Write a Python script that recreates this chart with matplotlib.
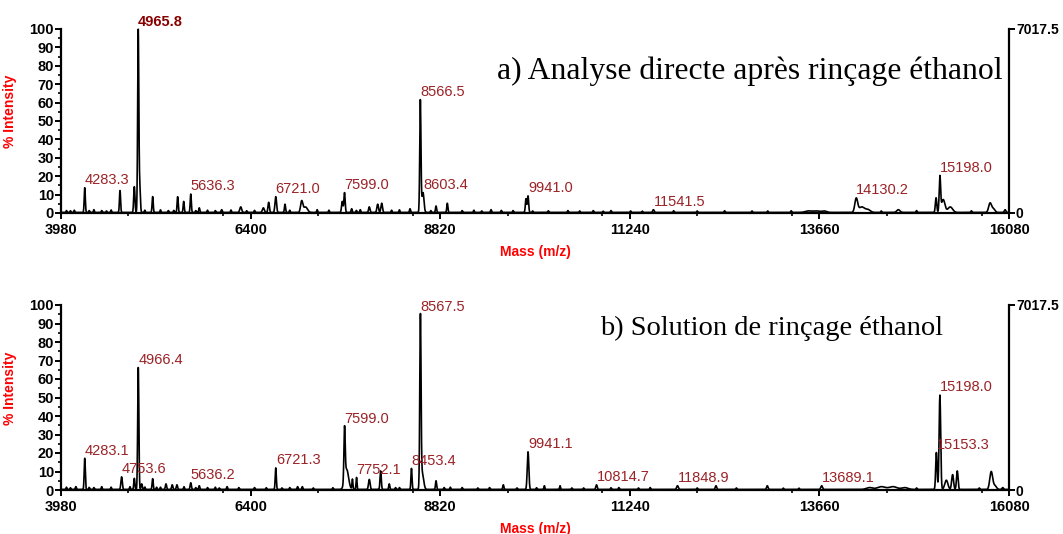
import numpy as np
import matplotlib
matplotlib.use("Agg")
import matplotlib.pyplot as plt
from matplotlib.ticker import MultipleLocator

# ---------------- data ----------------
x_ticks = [3980, 6400, 8820, 11240, 13660, 16080]
y_ticks = [0, 10, 20, 30, 40, 50, 60, 70, 80, 90, 100]
right_max = 7017.5

# panel a: peaks (mass, % intensity, sigma in Da)
a_mass = [4283.3, 4733, 4916, 4965.8, 4985, 5150, 5469, 5546, 5636.3, 5745,
          6031, 6274, 6563, 6631, 6721.0, 6839, 7052, 7100, 7570, 7599.0,
          7690, 7915, 8022, 8073, 8435, 8566.5, 8590, 8603.4, 8767, 8911,
          9469, 9915, 9941.0, 10774, 11541.5, 13520, 13620, 13720, 14130.2, 14200,
          14280, 14668, 15149, 15198.0, 15240, 15330, 15838, 15880, 16030]
a_int = [13.5, 12, 14, 98.8, 14, 8.6, 8.6, 6, 10, 2.5,
         1.5, 3, 2.5, 5.5, 8.6, 4.5, 6, 3, 6, 10.8,
         2, 3, 4.5, 5, 2, 59, 6, 6, 3.5, 5,
         1.5, 7.5, 9, 1, 1.5, 0.8, 0.8, 0.8, 7.5, 3,
         1.5, 1.5, 8, 19, 7, 3, 5, 2, 1.5]
a_sig = [7, 7, 8, 7.5, 8, 7, 7, 7, 7, 7,
         8, 12, 12, 9, 10, 7, 14, 25, 9, 8,
         7, 9, 10, 10, 7, 7.5, 18, 10, 7, 7,
         7, 8, 8, 7, 9, 40, 40, 30, 18, 35,
         30, 20, 9, 9, 22, 30, 18, 20, 10]
a_noise_mass = [4050, 4150, 4400, 4500, 4620, 5050, 5250, 5350, 5850, 5950,
                6150, 6450, 7250, 7400, 7800, 8200, 8300, 9100, 9250, 9600,
                9750, 10200, 10450, 10600, 11000, 11250, 11800, 12100, 12450, 12800,
                13000, 13300, 14450, 14900, 15600, 4100, 4340, 4560, 5420, 5700,
                6350, 6900, 7750, 8700, 9350, 10000, 10900, 11400]
a_noise_int = [1.0, 1.2, 1.5, 1.0, 1.3, 1.2, 1.4, 1.0, 1.2, 1.0,
               1.3, 1.1, 1.5, 1.2, 1.5, 1.2, 1.4, 1.0, 1.2, 1.1,
               1.0, 0.9, 1.0, 0.8, 1.0, 0.8, 0.9, 0.8, 0.9, 0.8,
               0.8, 0.9, 0.8, 1.0, 0.9, 0.9, 1.0, 0.8, 1.1, 1.0,
               0.9, 1.2, 1.1, 1.0, 0.8, 0.8, 0.7, 0.7]
a_labels = [4283.3, 4965.8, 5636.3, 6721.0, 7599.0, 8566.5, 8603.4, 9941.0,
            11541.5, 14130.2, 15198.0]

# panel b
b_mass = [4170, 4283.1, 4753.6, 4916, 4966.4, 5010, 5150, 5320, 5400, 5460,
          5636.2, 5745, 6100, 6721.3, 7000, 7060, 7599.0, 7625, 7700, 7752.1,
          7915, 8060, 8170, 8453.4, 8567.5, 8590, 8767, 8870, 9626, 9941.1,
          10150, 10350, 10814.7, 11100, 11500, 11848.9, 12340, 12995, 13689.1, 14300,
          14450, 14600, 14750, 15153.3, 15198.0, 15280, 15360, 15420, 15853, 15900,
          16000]
b_int = [1.5, 17, 6.8, 6, 66, 3, 5.8, 3, 2.5, 2.5,
         3.6, 2, 1.5, 11.7, 1.5, 1.5, 28, 11, 5.5, 6.5,
         5.4, 10, 3, 11.4, 91, 9, 4.7, 1, 2.5, 20.4,
         2, 2, 2.5, 1, 1, 2, 2, 2, 2, 1,
         1.5, 1.5, 1, 20, 51, 5, 8, 10, 9.6, 2,
         1]
b_sig = [7, 7, 9, 7, 7.5, 8, 7, 8, 8, 8,
         8, 7, 7, 7, 7, 7, 8, 25, 6, 6,
         10, 8, 7, 7, 8, 18, 7, 6, 7, 10,
         6, 6, 9, 6, 6, 11, 9, 9, 11, 40,
         50, 50, 40, 9, 10, 20, 12, 10, 18, 20,
         10]
b_noise_mass = [4050, 4400, 4500, 4620, 5050, 5250, 5550, 5850, 5950, 6250,
                6450, 6600, 6900, 7200, 7450, 8300, 8950, 9100, 9300, 9450,
                9800, 10050, 10500, 10650, 11000, 11350, 12100, 12600, 13200, 13400,
                14900, 15700, 4100, 4340, 4860, 5200, 5700, 6000, 6800, 8250]
b_noise_int = [1.2, 1.0, 1.5, 1.2, 1.3, 1.2, 1.5, 1.0, 1.2, 1.0,
               1.0, 0.9, 1.0, 0.8, 0.9, 1.0, 1.2, 1.0, 0.8, 1.0,
               0.8, 0.9, 0.8, 0.8, 0.9, 0.8, 0.8, 0.8, 0.7, 0.7,
               0.8, 0.8, 0.9, 1.1, 1.5, 1.2, 1.0, 0.8, 0.8, 1.0]
b_labels = [4283.1, 4753.6, 4966.4, 5636.2, 6721.3, 7599.0, 7752.1, 8453.4,
            8567.5, 9941.1, 10814.7, 11848.9, 13689.1, 15153.3, 15198.0]

titles = ["a) Analyse directe après rinçage éthanol", "b) Solution de rinçage éthanol"]

# ---------------- drawing ----------------
plt.rcParams['font.family'] = ['Liberation Sans', 'DejaVu Sans']

RED_LBL = '#9b2327'

def profile(xg, masses, ints, sigs, nmass, nint):
    y = np.full_like(xg, 0.3)
    for m, h, s in zip(masses, ints, sigs):
        y += h * np.exp(-0.5 * ((xg - m) / s) ** 2)
    for m, h in zip(nmass, nint):
        y += h * np.exp(-0.5 * ((xg - m) / 6.0) ** 2)
    return y

xg = np.arange(3980, 16080.1, 2.0)

fig = plt.figure(figsize=(10.63, 5.34), dpi=100)
axes_pos = [[61/1063, 1-213/534, 948/1063, 184/534],
            [61/1063, 1-490/534, 948/1063, 185/534]]
panels = [(a_mass, a_int, a_sig, a_noise_mass, a_noise_int, a_labels),
          (b_mass, b_int, b_sig, b_noise_mass, b_noise_int, b_labels)]
title_pos = [(0.460, 0.768), (0.569, 0.876)]
title_size = [22.8, 20.5]

for i, (pos, pdata) in enumerate(zip(axes_pos, panels)):
    masses, ints, sigs, nm, ni, labels = pdata
    ax = fig.add_axes(pos)
    y = profile(xg, masses, ints, sigs, nm, ni)
    ax.plot(xg, y, color='black', lw=1.2, clip_on=False)
    ax.set_xlim(3980, 16080)
    ax.set_ylim(0, 100)
    ax.set_xticks(x_ticks)
    ax.set_xticklabels([str(t) for t in x_ticks])
    ax.xaxis.set_minor_locator(MultipleLocator(1210))
    ax.set_yticks(y_ticks)
    ax.yaxis.set_minor_locator(MultipleLocator(5))
    for s in ['top', 'right']:
        ax.spines[s].set_visible(False)
    for s in ['left', 'bottom']:
        ax.spines[s].set_linewidth(1.6)
    ax.tick_params(axis='both', which='major', direction='out', length=4, width=1.4,
                   labelsize=10.5)
    ax.tick_params(axis='both', which='minor', direction='out', length=2.5, width=1.2)
    ax.tick_params(axis='x', pad=3)
    ax.tick_params(axis='y', pad=1)
    for lab in ax.get_xticklabels() + ax.get_yticklabels():
        lab.set_fontweight('bold')
    ax.set_ylabel('% Intensity', color='red', fontweight='bold', fontsize=10, labelpad=2)
    ax.yaxis.set_label_coords(-0.046, 0.55)
    ax.set_xlabel('Mass (m/z)', color='red', fontweight='bold', fontsize=10, labelpad=6)

    # right axis
    ax2 = ax.twinx()
    ax2.set_ylim(0, right_max)
    ax2.set_yticks([0, right_max])
    ax2.set_yticklabels(['0', '7017.5'])
    for s in ['top', 'left', 'bottom']:
        ax2.spines[s].set_visible(False)
    ax2.spines['right'].set_linewidth(1.6)
    ax2.tick_params(axis='y', direction='out', length=4, width=1.4, labelsize=10, pad=1)
    for lab in ax2.get_yticklabels():
        lab.set_fontweight('bold')

    # peak labels
    for m in labels:
        yv = np.interp(m, xg, y)
        bold = (i == 0 and m == 4965.8)
        ax.annotate(f"{m:.1f}", xy=(m, yv), xytext=(0, 0.5), textcoords='offset points',
                    ha='left', va='bottom', fontsize=10.5,
                    color='#880000' if bold else RED_LBL,
                    fontweight='bold' if bold else 'normal', annotation_clip=False)

    tx, ty = title_pos[i]
    ax.text(tx, ty, titles[i], transform=ax.transAxes, family='Liberation Serif',
            fontsize=title_size[i], ha='left', va='center', color='black')

fig.savefig('out.png', dpi=100)
